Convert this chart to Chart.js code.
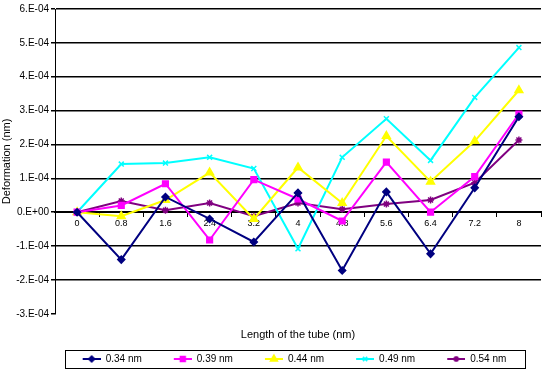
<!DOCTYPE html>
<html>
<head>
<meta charset="utf-8">
<script src="https://cdn.jsdelivr.net/npm/chart.js@4.4.0/dist/chart.umd.min.js"></script>
<style>
  html, body { margin: 0; padding: 0; background: #fff; overflow: hidden; }
</style>
</head>
<body>
<canvas id="grafico" width="547" height="376"></canvas>
<script>
// comprimento do tubo (nm)
const comprimentos = ["0", "0.8", "1.6", "2.4", "3.2", "4", "4.8", "5.6", "6.4", "7.2", "8"];

// deformação (nm) por diâmetro
const d034 = [0, -1.4e-4, 0.45e-4, -0.2e-4, -0.88e-4, 0.57e-4, -1.72e-4, 0.6e-4, -1.23e-4, 0.72e-4, 2.82e-4];
const d039 = [0, 0.2e-4, 0.84e-4, -0.82e-4, 0.96e-4, 0.39e-4, -0.26e-4, 1.48e-4, 0, 1.05e-4, 2.9e-4];
const d044 = [0, -0.12e-4, 0.36e-4, 1.17e-4, -0.2e-4, 1.32e-4, 0.27e-4, 2.25e-4, 0.9e-4, 2.1e-4, 3.6e-4];
const d049 = [0, 1.42e-4, 1.45e-4, 1.62e-4, 1.29e-4, -1.08e-4, 1.62e-4, 2.76e-4, 1.53e-4, 3.39e-4, 4.86e-4];
const d054 = [0, 0.33e-4, 0.06e-4, 0.27e-4, -0.12e-4, 0.27e-4, 0.09e-4, 0.24e-4, 0.36e-4, 0.87e-4, 2.13e-4];

const nomes = ["0.34 nm", "0.39 nm", "0.44 nm", "0.49 nm", "0.54 nm"];
const cores = ["#000080", "#ff00ff", "#ffff00", "#00ffff", "#800080"];
const marcadores = ["rectRot", "rect", "triangle", "crossRot", "star"];
const raios = [3.5, 4, 4.5, 3.5, 3.5];

const FONTE = "'Liberation Sans', Arial, sans-serif";

function formatarE(v) {
  if (Math.abs(v) < 1e-12) return "0.E+00";
  const e = Math.floor(Math.log10(Math.abs(v)) + 1e-9);
  const m = Math.round(v / Math.pow(10, e));
  const s = e < 0 ? "-" : "+";
  return m + ".E" + s + String(Math.abs(e)).padStart(2, "0");
}

// ícone da legenda: linha + marcador, com espaço à esquerda
const ICON_W = 42;
const PAD_LEG = 8;
const DESLOC_LEG = 10;
function icone(cor, estilo, raio) {
  const c = document.createElement("canvas");
  c.width = ICON_W;
  c.height = 12;
  const ctx = c.getContext("2d");
  ctx.strokeStyle = cor;
  ctx.fillStyle = cor;
  ctx.lineWidth = 2;
  ctx.beginPath();
  ctx.moveTo(ICON_W - 18, 6);
  ctx.lineTo(ICON_W, 6);
  ctx.stroke();
  ctx.lineWidth = 1.5;
  Chart.helpers.drawPoint(ctx, { pointStyle: estilo, radius: raio - 0.5, borderWidth: 1.5, rotation: 0 }, ICON_W - 9, 6);
  return c;
}
const icones = cores.map((c, i) => icone(c, marcadores[i], raios[i]));

const series = [d034, d039, d044, d049, d054];

const bordaLegenda = {
  id: "bordaLegenda",
  afterLayout(chart) {
    const lg = chart.legend;
    if (!lg) return;
    lg.left += DESLOC_LEG;
    lg.right += DESLOC_LEG;
  },
  afterDraw(chart) {
    const lg = chart.legend;
    if (!lg || !lg.lineWidths) return;
    const inicio = (lg.left + PAD_LEG + lg.right - lg.lineWidths[0]) / 2;
    const x1 = inicio + ICON_W - 18 - 18;
    const x2 = inicio + lg.lineWidths[0] - PAD_LEG + 18;
    const cy = lg.top + PAD_LEG + 5;
    const ctx = chart.ctx;
    ctx.save();
    ctx.strokeStyle = "#000";
    ctx.lineWidth = 1;
    ctx.strokeRect(Math.round(x1) + 0.5, Math.round(cy - 9) + 0.5, Math.round(x2 - x1), 18);
    ctx.restore();
  }
};

new Chart(document.getElementById("grafico"), {
  type: "line",
  data: {
    labels: comprimentos,
    datasets: series.map((s, i) => ({
      label: nomes[i],
      data: s,
      borderColor: cores[i],
      backgroundColor: cores[i],
      borderWidth: 2,
      pointStyle: marcadores[i],
      pointRadius: raios[i],
      pointBorderWidth: 1.5,
      tension: 0,
      fill: false
    }))
  },
  options: {
    responsive: false,
    animation: false,
    layout: { padding: { left: 0, right: 2, top: 9, bottom: 2 } },
    scales: {
      x: {
        type: "category",
        position: { y: 0 },
        offset: true,
        grid: {
          display: true,
          drawOnChartArea: false,
          drawTicks: true,
          tickLength: 4,
          offset: true,
          color: "#000",
          tickColor: "#000"
        },
        border: { display: true, color: "#000", width: 2 },
        ticks: { font: { family: FONTE, size: 9 }, color: "#000", padding: 2, maxRotation: 0, autoSkip: false }
      },
      x2: {
        type: "category",
        labels: comprimentos,
        position: "bottom",
        grid: { display: false, drawTicks: false },
        border: { display: false },
        ticks: { display: false },
        title: {
          display: true,
          text: "Length of the tube (nm)",
          font: { family: FONTE, size: 11 },
          color: "#000",
          padding: { top: 15, bottom: 4 }
        }
      },
      y: {
        min: -3e-4,
        max: 6e-4,
        afterFit(scale) { scale.width = 55; },
        grid: {
          color: ctx => (ctx.tick && ctx.tick.value < -2.9e-4) ? "rgba(0,0,0,0)" : "#000",
          tickColor: "#000",
          lineWidth: 1.5,
          tickLength: 4
        },
        border: { display: true, color: "#000", width: 1 },
        ticks: {
          stepSize: 1e-4,
          font: { family: FONTE, size: 10 },
          color: "#000",
          padding: 2,
          callback: v => formatarE(v)
        },
        title: {
          display: true,
          text: "Deformation (nm)",
          font: { family: FONTE, size: 11 },
          color: "#000",
          padding: { top: 0, bottom: 2 }
        }
      }
    },
    plugins: {
      legend: {
        position: "bottom",
        labels: {
          usePointStyle: true,
          pointStyleWidth: ICON_W,
          padding: PAD_LEG,
          font: { family: FONTE, size: 10 },
          color: "#000",
          generateLabels(chart) {
            const base = Chart.defaults.plugins.legend.labels.generateLabels(chart);
            return base.map((l, i) => Object.assign(l, { pointStyle: icones[i], rotation: 0 }));
          }
        }
      },
      tooltip: { enabled: false }
    }
  },
  plugins: [bordaLegenda]
});
</script>
</body>
</html>
